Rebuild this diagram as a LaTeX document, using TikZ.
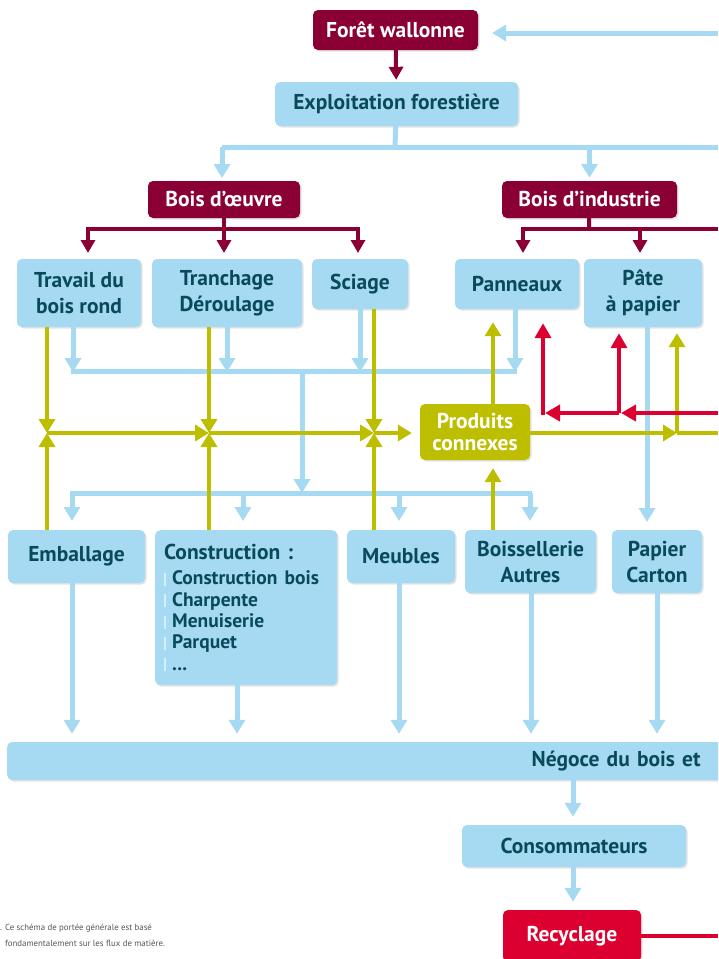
\documentclass[tikz,border=0pt]{standalone}
\usepackage{fontspec}
\setmainfont{PT Sans}
\usepackage{tikz}
\usetikzlibrary{shapes,arrows.meta,positioning,shadows}

\definecolor{bordeaux}{RGB}{139,0,52}
\definecolor{ciel}{RGB}{166,218,242}
\definecolor{petrole}{RGB}{8,74,92}
\definecolor{olive}{RGB}{190,190,0}
\definecolor{rouge}{RGB}{220,0,48}
\definecolor{gris}{RGB}{85,85,85}

\newcommand{\puce}{{\color{white!55!ciel}\rule[-1pt]{2pt}{13pt}}\hspace{6pt}}

\tikzstyle{boite} = [rectangle, rounded corners=5pt, align=center,
    font=\bfseries\fontsize{21.5}{26}\selectfont,
    drop shadow={opacity=0.22, shadow xshift=1.5pt, shadow yshift=-1.5pt}]
\tikzstyle{boite bleue} = [boite, fill=ciel, text=petrole]
\tikzstyle{boite bordeaux} = [boite, fill=bordeaux, text=white]
\tikzstyle{boite olive} = [boite, fill=olive, text=white]
\tikzstyle{boite rouge} = [boite, fill=rouge, text=white]
\tikzstyle{note} = [font=\fontsize{8.8}{16}\selectfont, text=gris,
    align=left, inner sep=0pt]
\tikzstyle{trait bleu} = [ciel, line width=5pt]
\tikzstyle{fleche bleue} = [trait bleu, -{Triangle[width=16pt,length=14pt]}]
\tikzstyle{trait bordeaux} = [bordeaux, line width=4pt]
\tikzstyle{fleche bordeaux} = [trait bordeaux, -{Triangle[width=14pt,length=13pt]}]
\tikzstyle{trait olive} = [olive, line width=3.5pt]
\tikzstyle{fleche olive} = [trait olive, -{Triangle[width=16pt,length=14pt]}]
\tikzstyle{trait rouge} = [rouge, line width=4pt]
\tikzstyle{fleche rouge} = [trait rouge, -{Triangle[width=16pt,length=15pt]}]

\begin{document}
\begin{tikzpicture}[x=1pt,y=-1pt]
  \useasboundingbox (0,0) rectangle (718,959);
  \clip (0,0) rectangle (718,959);
  % Place nodes
  \node [boite bordeaux, minimum width=165, minimum height=40] (foret) at (395.5,30) {Forêt wallonne};
  \node [boite bleue, minimum width=243, minimum height=44] (exploit) at (396.5,104) {Exploitation forestière};
  \node [boite bordeaux, minimum width=152, minimum height=37] (oeuvre) at (224,199.5) {Bois d’œuvre};
  \node [boite bordeaux, minimum width=175, minimum height=37] (industrie) at (589.5,199.5) {Bois d’industrie};
  \node [boite bleue, minimum width=124, minimum height=68] (travail) at (79,293) {Travail du\\bois rond};
  \node [boite bleue, minimum width=150, minimum height=68] (tranchage) at (227,293) {Tranchage\\Déroulage};
  \node [boite bleue, minimum width=96, minimum height=50] (sciage) at (360,284) {Sciage};
  \node [boite bleue, minimum width=124, minimum height=50] (panneaux) at (517,284) {Panneaux};
  \node [boite bleue, minimum width=118, minimum height=68] (pate) at (643,293) {Pâte\\à papier};
  \node [boite olive, minimum width=110, minimum height=56,
    font=\bfseries\fontsize{21.5}{22}\selectfont] (connexes) at (475,432) {Produits\\connexes};
  \node [boite bleue, minimum width=137, minimum height=53] (emballage) at (76.5,556.5) {Emballage};
  \node [boite bleue, minimum width=182, minimum height=155, anchor=north west,
    text width=164, inner xsep=9pt, align=left] (construction) at (155,530)
    {Construction :\\[4pt]
     \fontsize{19.5}{21.3}\selectfont \puce Construction bois\\ \puce Charpente\\
      \puce Menuiserie\\ \puce Parquet\\ \puce ...\par};
  \node [boite bleue, minimum width=108, minimum height=53] (meubles) at (401,556.5) {Meubles};
  \node [boite bleue, minimum width=131, minimum height=63] (boissellerie) at (530.5,561.5) {Boissellerie\\Autres};
  \node [boite bleue, minimum width=90, minimum height=63] (papier) at (657,561.5) {Papier\\Carton};
  \node [boite bleue, minimum height=38, anchor=west, text width=740, align=right] (negoce) at (7,761) {Négoce du bois et\kern50pt};
  \node [boite bleue, minimum width=224, minimum height=42] (conso) at (574,846) {Consommateurs};
  \node [boite rouge, minimum width=138, minimum height=52] (recyclage) at (572,936) {Recyclage};
  \node [note, anchor=north west] (renvoi) at (0,924)
    {. Ce schéma de portée générale est basé\\\phantom{. }fondamentalement sur les flux de matière.};
  % Free ends on the right
  \coordinate (bordForet) at (718,33);
  \coordinate (bordExploit) at (718,147);
  \coordinate (bordIndustrie) at (718,229);
  \coordinate (bordRouge) at (718,413);
  \coordinate (bordConnexes) at (718,433);
  \coordinate (bordRecyclage) at (718,936);
  % Junctions
  \coordinate (jExploit) at (395,147);
  \coordinate (jOeuvre) at (224,229);
  \coordinate (jIndustrie) at (589,229);
  \coordinate (jHaut) at (302,371);
  \coordinate (jBas) at (302,493);
  \coordinate (jTravail) at (47,433);
  \coordinate (jTranchage) at (209,433);
  \coordinate (jSciage) at (374,433);
  \coordinate (jPate) at (677,433);
  \coordinate (jRouge) at (619,413);
  \coordinate (jPanneaux) at (543,413);
  % Draw edges
  \draw [fleche bordeaux, shorten >=2pt] (foret) -- (exploit);
  \draw [fleche bleue, shorten >=14pt] (bordForet) -- (foret.east |- bordForet);
  \draw [trait bleu] (exploit) -- (jExploit);
  \draw [trait bleu] (222,147) -- (bordExploit);
  \draw [fleche bleue, shorten >=3pt] (222,147) -- (222,181);
  \draw [fleche bleue, shorten >=3pt] (industrie |- jExploit) -- (industrie.north);
  % bois d'oeuvre / bois d'industrie
  \draw [trait bordeaux] (oeuvre) -- (jOeuvre);
  \draw [trait bordeaux] (86,229) -- (360,229);
  \foreach \x in {88,224,358}
    \draw [fleche bordeaux] (\x,229) -- (\x,253);
  \draw [trait bordeaux] (industrie) -- (jIndustrie);
  \draw [trait bordeaux] (521,229) -- (bordIndustrie);
  \foreach \x in {523,640}
    \draw [fleche bordeaux] (\x,229) -- (\x,253);
  % vers le haut du schema bleu
  \draw [fleche bleue] (73,327) -- (73,372);
  \draw [fleche bleue] (227,327) -- (227,372);
  \draw [fleche bleue] (360,309) -- (360,372);
  \draw [fleche bleue] (515,309) -- (515,372);
  \draw [trait bleu] (71,371) -- (517,371);
  \draw [fleche bleue] (jHaut) -- (jBas);
  \draw [trait bleu] (70,493) -- (532,493);
  \foreach \x in {72,243,399,530}
    \draw [fleche bleue] (\x,493) -- (\x,521);
  \draw [fleche bleue, shorten >=8pt] (647,327) -- (647,530);
  % produits connexes
  \draw [fleche olive] (travail.south -| jTravail) -- (jTravail);
  \draw [fleche olive] (emballage.north -| jTravail) -- (jTravail);
  \draw [fleche olive] (tranchage.south -| jTranchage) -- (jTranchage);
  \draw [fleche olive] (construction.north -| jTranchage) -- (jTranchage);
  \draw [fleche olive] (sciage.south -| jSciage) -- (jSciage);
  \draw [fleche olive] (meubles.north -| jSciage) -- (jSciage);
  \draw [fleche olive] (jTravail) -- (jTranchage);
  \draw [fleche olive] (jTranchage) -- (jSciage);
  \draw [fleche olive, shorten >=8pt] (jSciage) -- (connexes.west |- jSciage);
  \draw [fleche olive, shorten >=13pt] (connexes.north -| 493,0) -- (panneaux.south -| 493,0);
  \draw [fleche olive, shorten >=8pt] (boissellerie.north -| 493,0) -- (connexes.south -| 493,0);
  \draw [fleche olive] (connexes.east |- jPate) -- (jPate);
  \draw [trait olive] (jPate) -- (bordConnexes);
  \draw [fleche olive, shorten >=6pt] (jPate) -- (pate.south -| jPate);
  % recyclage
  \draw [fleche rouge] (bordRouge) -- (621,413);
  \draw [fleche rouge] (jRouge) -- (545,413);
  \draw [fleche rouge, shorten >=6pt] (jRouge) -- (pate.south -| jRouge);
  \draw [fleche rouge, shorten >=14pt] (543,415) -- (panneaux.south -| jPanneaux);
  \draw [trait rouge] (541,413) -- (545,413);
  % negoce, consommateurs
  \draw [fleche bleue, shorten >=8pt] (emballage.south -| 72,0) -- (negoce.north -| 72,0);
  \draw [fleche bleue, shorten >=8pt] (construction.south -| 237,0) -- (negoce.north -| 237,0);
  \draw [fleche bleue, shorten >=8pt] (meubles.south -| 399,0) -- (negoce.north -| 399,0);
  \draw [fleche bleue, shorten >=8pt] (boissellerie.south -| 531,0) -- (negoce.north -| 531,0);
  \draw [fleche bleue, shorten >=8pt] (papier.south -| 657,0) -- (negoce.north -| 657,0);
  \draw [fleche bleue, shorten >=8pt] (negoce.south -| 573,0) -- (conso.north -| 573,0);
  \draw [fleche bleue, shorten >=8pt] (conso.south -| 573,0) -- (recyclage.north -| 573,0);
  \draw [trait rouge] (recyclage.east) -- (bordRecyclage);
\end{tikzpicture}
\end{document}
